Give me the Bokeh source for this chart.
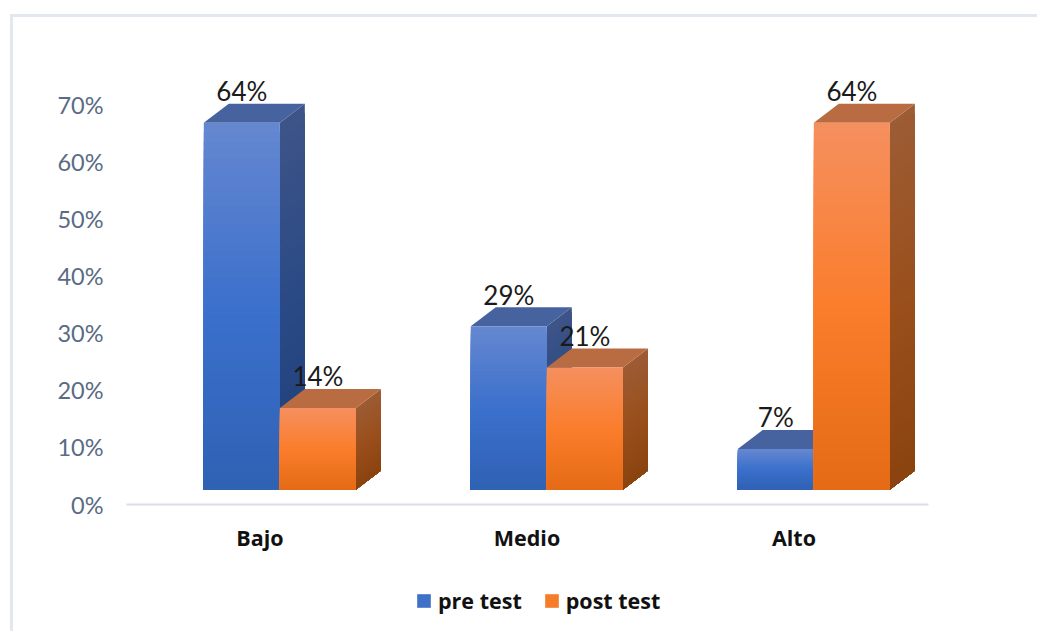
from bokeh.plotting import figure, ColumnDataSource
from bokeh.layouts import column
from bokeh.models import Legend, LegendItem, FixedTicker, Range1d, CustomJSTickFormatter
from bokeh.core.properties import value
from bokeh.embed import file_html
from bokeh.resources import INLINE

categories = ["Bajo", "Medio", "Alto"]
pre_test = [64.3, 28.6, 7.1]
post_test = [14.3, 21.4, 64.3]
pre_labels = ["64%", "29%", "7%"]
post_labels = ["14%", "21%", "64%"]
series_names = ["pre test", "post test"]
y_ticks = [0, 10, 20, 30, 40, 50, 60, 70]

PRE = dict(front=["#6487d0", "#3b70cc", "#2f61b3"], side=["#3d5487", "#2a4a85", "#1f3f7a"], top="#47639f", swatch="#3f70c8")
POST = dict(front=["#f58f5e", "#fa7d2b", "#e56a15"], side=["#9c5c34", "#9a4f1c", "#8a430e"], top="#b96c42", swatch="#f57c28")

BAR_W = 0.285
SHIFT = 0.0745
DX = 0.0935
DY = 3.33
BASE = 2.63
N = 40


def hex2rgb(h):
    return tuple(int(h[i:i + 2], 16) for i in (1, 3, 5))


def grad(stops, t):
    s = t * (len(stops) - 1)
    i = min(int(s), len(stops) - 2)
    f = s - i
    a, b = hex2rgb(stops[i]), hex2rgb(stops[i + 1])
    return "#%02x%02x%02x" % tuple(round(a[k] + (b[k] - a[k]) * f) for k in range(3))


p = figure(width=1027, height=543,
           output_backend="svg", toolbar_location=None,
           x_range=Range1d(0, 3.004), y_range=Range1d(0, 78),
           min_border_left=113, min_border_right=112, min_border_top=42, min_border_bottom=56)
p.margin = (14, 0, 0, 10)
p.styles = {"border-left": "3px solid #e3e7ef", "border-top": "3px solid #e3e7ef"}
p.background_fill_color = "white"
p.border_fill_color = "white"
p.outline_line_color = None
p.grid.visible = False

for vals, col, x0 in ((pre_test, PRE, -BAR_W), (post_test, POST, 0.0)):
    xs, ys, cs = [], [], []
    for g, v in enumerate(vals):
        l = g + 0.5 + SHIFT + x0
        r = l + BAR_W
        b, t = BASE, BASE + v
        # right side
        for i in range(N):
            f = i / N
            yt = t + (b - t) * f
            xs.append([r, r + DX, r + DX, r])
            ys.append([yt, yt + DY, b + DY, b])
            cs.append(grad(col["side"], f))
        # top
        xs.append([l, l + DX, r + DX, r])
        ys.append([t, t + DY, t + DY, t])
        cs.append(col["top"])
        # front
        for i in range(N):
            f = i / N
            yt = t + (b - t) * f
            xs.append([l, r, r, l])
            ys.append([yt, yt, b, b])
            cs.append(grad(col["front"], f))
    src = ColumnDataSource(dict(xs=xs, ys=ys, c=cs))
    p.patches("xs", "ys", source=src, fill_color="c", line_color=None)

lx, ly, lt = [], [], []
for g in range(3):
    lx += [g + 0.5 + SHIFT - BAR_W / 2, g + 0.5 + SHIFT + BAR_W / 2]
    ly += [BASE + pre_test[g] + DY - 0.6, BASE + post_test[g] + DY - 0.6]
    lt += [pre_labels[g], post_labels[g]]
p.text(lx, ly, text=lt, text_align="center", text_baseline="bottom", text_color="#1a1a1a",
       text_font=value("Lato"), text_font_size="26px")

p.xaxis.ticker = FixedTicker(ticks=[0.5, 1.5, 2.5])
p.xaxis.major_label_overrides = {0.5 + i: c for i, c in enumerate(categories)}
p.xaxis.major_tick_line_color = None
p.xaxis.minor_tick_line_color = None
p.xaxis.axis_line_color = "#d9dde6"
p.xaxis.axis_line_width = 2
p.xaxis.major_label_standoff = 12
p.xaxis.major_label_text_font = "Open Sans"
p.xaxis.major_label_text_font_style = "bold"
p.xaxis.major_label_text_font_size = "21.5px"
p.xaxis.major_label_text_color = "#111111"

p.yaxis.ticker = FixedTicker(ticks=y_ticks)
p.yaxis.formatter = CustomJSTickFormatter(code="return tick + '%';")
p.yaxis.major_tick_line_color = None
p.yaxis.minor_tick_line_color = None
p.yaxis.axis_line_color = None
p.yaxis.major_label_standoff = 17
p.yaxis.major_label_text_font = "Lato"
p.yaxis.major_label_text_font_size = "23.5px"
p.yaxis.major_label_text_color = "#5a6b85"

# legend strip under the chart
q = figure(width=1027, height=74, output_backend="svg", toolbar_location=None,
           x_range=Range1d(0, 1), y_range=Range1d(0, 1),
           min_border_left=0, min_border_right=0, min_border_top=0, min_border_bottom=0)
q.margin = (0, 0, 0, 10)
q.styles = {"border-left": "3px solid #e3e7ef"}
q.axis.visible = False
q.grid.visible = False
q.outline_line_color = None
q.background_fill_color = "white"
q.border_fill_color = "white"
r1 = q.quad(left=[-2], right=[-1], top=[-1], bottom=[-2], fill_color=PRE["swatch"], line_color=None)
r2 = q.quad(left=[-2], right=[-1], top=[-1], bottom=[-2], fill_color=POST["swatch"], line_color=None)
legend = Legend(items=[LegendItem(label=series_names[0], renderers=[r1]),
                       LegendItem(label=series_names[1], renderers=[r2])],
                orientation="horizontal", location=(289, 16), border_line_color=None,
                background_fill_alpha=0, glyph_width=17, glyph_height=17, spacing=21, label_standoff=6,
                padding=0, margin=0,
                label_text_font="Open Sans", label_text_font_style="bold",
                label_text_font_size="21.5px", label_text_color="#111111")
q.add_layout(legend, "center")

open("out.html", "w").write(file_html(column(p, q, spacing=0), INLINE))
